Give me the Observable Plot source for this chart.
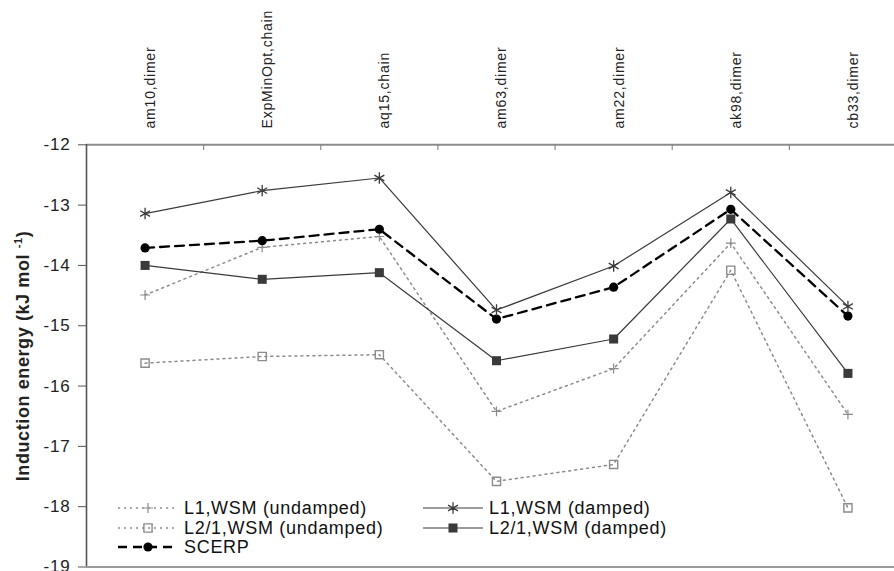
<!DOCTYPE html>
<html>
<head>
<meta charset="utf-8">
<script src="https://cdn.jsdelivr.net/npm/d3@7"></script>
<script src="https://cdn.jsdelivr.net/npm/@observablehq/plot@0.6"></script>
<style>
  html, body { margin: 0; padding: 0; background: #fff; }
  #chart { width: 894px; height: 571px; overflow: hidden; }
</style>
</head>
<body>
<div id="chart"></div>
<script>
// Complexes / structures along the x axis
const categories = ["am10,dimer", "ExpMinOpt,chain", "aq15,chain", "am63,dimer", "am22,dimer", "ak98,dimer", "cb33,dimer"];

// Induction energies (kJ mol-1) for each model
const l1Undamped  = [-14.49, -13.70, -13.52, -16.42, -15.71, -13.63, -16.47];
const l1Damped    = [-13.14, -12.76, -12.55, -14.74, -14.01, -12.79, -14.68];
const l21Undamped = [-15.62, -15.51, -15.48, -17.58, -17.30, -14.08, -18.02];
const l21Damped   = [-14.00, -14.23, -14.12, -15.58, -15.22, -13.23, -15.79];
const scerp       = [-13.71, -13.59, -13.40, -14.89, -14.36, -13.07, -14.84];

const yTicks = [-12, -13, -14, -15, -16, -17, -18, -19];
const separators = [0.5, 1.5, 2.5, 3.5, 4.5, 5.5, 6.5];

const GRAY = "#8c8c8c";
const DARK = "#3a3a3a";

const series = [
  {name: "L1,WSM (undamped)",   values: l1Undamped,  stroke: GRAY,  width: 1.5, dash: "2,4", symbol: "plus",     r: 3.3, fill: "none",  symStroke: GRAY, symWidth: 1.2},
  {name: "L2/1,WSM (undamped)", values: l21Undamped, stroke: GRAY,  width: 1.5, dash: "2,4", symbol: "square2",  r: 5.2, fill: "none",  symStroke: GRAY, symWidth: 1.4},
  {name: "SCERP",               values: scerp,       stroke: "#000", width: 2.3, dash: "9,6", symbol: "circle",  r: 4.6, fill: "#000",  symStroke: "none", symWidth: 0},
  {name: "L1,WSM (damped)",     values: l1Damped,    stroke: DARK,  width: 1.2, dash: null,  symbol: "asterisk", r: 5.4, fill: "none",  symStroke: DARK, symWidth: 1.3},
  {name: "L2/1,WSM (damped)",   values: l21Damped,   stroke: DARK,  width: 1.2, dash: null,  symbol: "square",   r: 5.1, fill: DARK,    symStroke: "none", symWidth: 0}
];

const rowsOf = s => s.values.map((v, i) => ({i, v}));

const marks = [];
// frame lines
marks.push(Plot.ruleY([-12], {stroke: GRAY, strokeWidth: 2}));
marks.push(Plot.ruleY([-19], {stroke: "#9a9a9a", strokeWidth: 2.2}));
marks.push(Plot.ruleX([-0.5], {stroke: "#555", strokeWidth: 1.6}));

// category separators hanging below the top line
marks.push(Plot.axisX({anchor: "top", ticks: separators, tickSize: -5, tickFormat: () => "", label: null, stroke: "#777"}));
// category names, rotated above the frame
marks.push(Plot.text(categories, {
  x: (d, i) => i, frameAnchor: "top", dy: -16, rotate: -90,
  textAnchor: "start", fontSize: 14, fill: "#222"
}));

// y axis
marks.push(Plot.axisY({ticks: yTicks, tickSize: 8, tickPadding: 8, tickFormat: d => String(d).replace("−", "-"), fontSize: 17, label: null, stroke: "#555", fill: "#222"}));

// series lines (drawn in order so SCERP and damped sit on top)
for (const s of series) {
  marks.push(Plot.line(rowsOf(s), {x: "i", y: "v", stroke: s.stroke, strokeWidth: s.width, strokeDasharray: s.dash ?? undefined}));
}
for (const s of series) {
  marks.push(Plot.dot(rowsOf(s), {x: "i", y: "v", symbol: () => s.symbol, r: s.r, fill: s.fill, stroke: s.symStroke, strokeWidth: s.symWidth}));
}

const chart = Plot.plot({
  width: 894,
  height: 571,
  marginLeft: 86,
  marginTop: 144,
  marginBottom: 5,
  marginRight: 0,
  x: {domain: [-0.5, 6.5], range: [86, 906]},
  y: {domain: [-19, -12], range: [566.5, 144.3]},
  style: {fontFamily: "'Liberation Sans', Arial, sans-serif", fontSize: "15px", background: "#fff", color: "#222", overflow: "visible", letterSpacing: "0.8px"},
  marks
});

document.getElementById("chart").appendChild(chart);

// y axis title with superscript unit
const svg = d3.select(chart);
const yTitle = svg.append("text")
  .attr("transform", "translate(29,356) rotate(-90)")
  .attr("text-anchor", "middle")
  .attr("fill", "#222")
  .style("font", "bold 18px 'Liberation Sans', Arial, sans-serif")
  .style("letter-spacing", "0.6px");
yTitle.append("tspan").text("Induction energy (kJ mol ");
yTitle.append("tspan").attr("dy", -7).style("font-size", "11px").text("-1");
yTitle.append("tspan").attr("dy", 7).text(")");

// legend inside the plot area, bottom left
const legendPos = [
  {x0: 118, x1: 178, y: 508},
  {x0: 118, x1: 178, y: 528},
  {x0: 118, x1: 178, y: 547},
  {x0: 423, x1: 483, y: 508},
  {x0: 423, x1: 483, y: 528}
];
const symbolType = {
  plus: d3.symbolPlus, square2: d3.symbolSquare2, circle: d3.symbolCircle,
  asterisk: d3.symbolAsterisk, square: d3.symbolSquare
};
const lg = svg.append("g").attr("class", "legend").attr("text-anchor", "start");
series.forEach((s, k) => {
  const p = legendPos[k];
  const g = lg.append("g");
  g.append("line")
    .attr("x1", p.x0).attr("x2", p.x1).attr("y1", p.y).attr("y2", p.y)
    .attr("stroke", s.stroke).attr("stroke-width", s.width)
    .attr("stroke-dasharray", s.dash ?? null);
  g.append("path")
    .attr("transform", `translate(${(p.x0 + p.x1) / 2},${p.y})`)
    .attr("d", d3.symbol(symbolType[s.symbol], Math.PI * s.r * s.r)())
    .attr("fill", s.fill).attr("stroke", s.symStroke).attr("stroke-width", s.symWidth);
  g.append("text")
    .attr("x", p.x1 + 6).attr("y", p.y).attr("dy", "0.36em")
    .attr("text-anchor", "start")
    .attr("fill", "#111")
    .style("font", "18px 'Liberation Sans', Arial, sans-serif")
    .style("letter-spacing", "0.7px")
    .text(s.name);
});
</script>
</body>
</html>
